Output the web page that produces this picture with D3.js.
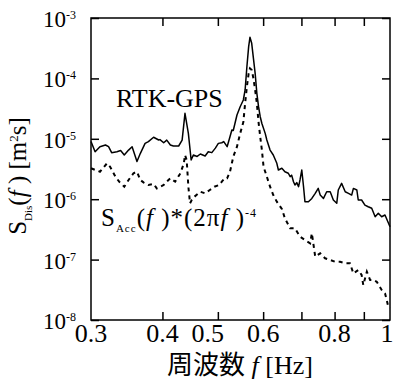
<!DOCTYPE html>
<html>
<head>
<meta charset="utf-8">
<script src="https://cdn.jsdelivr.net/npm/d3@7"></script>
<style>
  body { margin: 0; background: #fff; }
  svg { display: block; }
  svg text, svg tspan { font-family: "Liberation Serif"; }
  svg .cjk { font-family: "Noto Sans CJK JP"; }
</style>
</head>
<body>
<script>
// RTK-GPS displacement spectrum (solid)
const freqGPS = [0.300, 0.305, 0.311, 0.318, 0.322, 0.326, 0.333, 0.338, 0.343, 0.349,
  0.354, 0.361, 0.366, 0.373, 0.378, 0.386, 0.394, 0.396, 0.402, 0.407,
  0.413, 0.418, 0.427, 0.433, 0.438, 0.444, 0.449, 0.453, 0.460, 0.466,
  0.475, 0.481, 0.488, 0.495, 0.501, 0.508, 0.512, 0.519, 0.525, 0.529,
  0.532, 0.540, 0.547, 0.554, 0.558, 0.562, 0.566, 0.569, 0.573, 0.577,
  0.581, 0.585, 0.589, 0.593, 0.597, 0.605, 0.609, 0.617, 0.625, 0.634,
  0.638, 0.647, 0.655, 0.664, 0.669, 0.673, 0.678, 0.682, 0.687, 0.692,
  0.696, 0.701, 0.706, 0.710, 0.720, 0.730, 0.740, 0.749, 0.755, 0.765,
  0.775, 0.786, 0.796, 0.807, 0.812, 0.823, 0.835, 0.846, 0.857, 0.863,
  0.875, 0.880, 0.892, 0.904, 0.916, 0.929, 0.942, 0.954, 0.967, 0.980, 1.000];
const valGPS = [9.0e-6, 6.1e-6, 7.4e-6, 7.9e-6, 7.4e-6, 5.9e-6, 6.1e-6, 6.4e-6, 5.4e-6, 6.5e-6,
  7.4e-6, 4.2e-6, 5.75e-6, 8.4e-6, 9.0e-6, 1.06e-5, 9.55e-6, 9.7e-6, 8.6e-6, 9.5e-6,
  7.9e-6, 7.6e-6, 7.6e-6, 9.5e-6, 2.64e-5, 1.23e-5, 4.46e-6, 5.4e-6, 5.1e-6, 5.6e-6,
  5.2e-6, 6.1e-6, 5.9e-6, 7.0e-6, 8.4e-6, 8.6e-6, 9.0e-6, 7.4e-6, 1.08e-5, 1.40e-5,
  1.37e-5, 2.48e-5, 3.4e-5, 4.39e-5, 6.43e-5, 1.56e-4, 3.35e-4, 4.79e-4, 3.81e-4, 2.15e-4,
  1.21e-4, 5.67e-5, 3.4e-5, 2.32e-5, 1.79e-5, 1.23e-5, 9.55e-6, 6.5e-6, 5.4e-6, 3.93e-6,
  3.04e-6, 3.25e-6, 2.85e-6, 2.69e-6, 2.36e-6, 2.5e-6, 1.95e-6, 1.72e-6, 1.88e-6, 1.61e-6,
  2.08e-6, 3.04e-6, 1.61e-6, 9.1e-7, 9.1e-7, 1.03e-6, 1.25e-6, 1.51e-6, 1.17e-6, 1.03e-6,
  1.33e-6, 1.33e-6, 9.7e-7, 8.55e-7, 1.42e-6, 1.83e-6, 1.33e-6, 1.25e-6, 1.17e-6, 1.51e-6,
  1.42e-6, 9.7e-7, 9.7e-7, 8.0e-7, 7.5e-7, 7.07e-7, 5.13e-7, 5.85e-7, 5.13e-7, 5.47e-7, 3.5e-7];

// accelerometer spectrum converted to displacement (dashed)
const freqAcc = [0.300, 0.311, 0.320, 0.324, 0.331, 0.336, 0.343, 0.349, 0.356, 0.361,
  0.366, 0.371, 0.378, 0.386, 0.391, 0.402, 0.407, 0.413, 0.421, 0.430,
  0.436, 0.438, 0.441, 0.444, 0.447, 0.450, 0.455, 0.466, 0.475, 0.484,
  0.493, 0.503, 0.508, 0.514, 0.519, 0.525, 0.529, 0.532, 0.540, 0.547,
  0.554, 0.558, 0.562, 0.566, 0.569, 0.573, 0.577, 0.581, 0.585, 0.589,
  0.593, 0.597, 0.601, 0.609, 0.617, 0.625, 0.634, 0.647, 0.655, 0.669,
  0.682, 0.696, 0.710, 0.725, 0.730, 0.735, 0.740, 0.755, 0.770, 0.786,
  0.802, 0.818, 0.835, 0.851, 0.863, 0.880, 0.892, 0.898, 0.911, 0.923,
  0.935, 0.948, 0.967, 0.980, 0.987, 0.993, 1.000];
const valAcc = [3.25e-6, 2.85e-6, 3.93e-6, 3.45e-6, 2.36e-6, 1.95e-6, 1.61e-6, 2.08e-6, 2.69e-6, 2.85e-6,
  2.08e-6, 1.88e-6, 1.72e-6, 1.79e-6, 1.51e-6, 1.72e-6, 1.95e-6, 2.22e-6, 1.95e-6, 2.69e-6,
  3.93e-6, 5.4e-6, 4.46e-6, 1.61e-6, 8.55e-7, 9.7e-7, 1.10e-6, 1.33e-6, 1.25e-6, 1.42e-6,
  1.61e-6, 1.72e-6, 1.95e-6, 2.22e-6, 2.22e-6, 2.85e-6, 3.93e-6, 5.06e-6, 7.4e-6, 1.23e-5,
  1.89e-5, 3.87e-5, 7.3e-5, 1.21e-4, 1.47e-4, 1.38e-4, 1.0e-4, 6.43e-5, 3.87e-5, 1.89e-5,
  1.08e-5, 6.5e-6, 3.45e-6, 2.36e-6, 1.61e-6, 1.17e-6, 9.1e-7, 6.9e-7, 4.83e-7, 3.3e-7,
  3.3e-7, 2.4e-7, 2.11e-7, 1.86e-7, 2.72e-7, 1.75e-7, 1.12e-7, 1.27e-7, 1.05e-7, 9.85e-8,
  9.2e-8, 9.2e-8, 8.7e-8, 8.7e-8, 5.9e-8, 6.7e-8, 5.56e-8, 3.8e-8, 6.3e-8, 4.6e-8,
  4.6e-8, 4.3e-8, 3.14e-8, 2.77e-8, 2.14e-8, 1.66e-8, 1.58e-8];

const xTicks = [0.3, 0.4, 0.5, 0.6, 0.7, 0.8, 0.9, 1.0];
const xTickLabels = ["0.3", "0.4", "0.5", "0.6", "0.8", "1"];
const yExponents = [-3, -4, -5, -6, -7, -8];

const width = 393, height = 380;
const margin = { top: 18, right: 3, bottom: 60, left: 91 };

const x = d3.scaleLog()
  .domain([0.3, 1])
  .range([margin.left, width - margin.right]);

const y = d3.scaleLog()
  .domain([1e-8, 1e-3])
  .range([height - margin.bottom, margin.top]);

const svg = d3.select("body").append("svg")
  .attr("width", width)
  .attr("height", height);

// ticks pointing inward on all four sides
const tickLen = 8;
const inner = xTicks.slice(1, -1);
const decades = yExponents.map(e => Math.pow(10, e));
const axes = [
  [d3.axisBottom(x).tickValues(inner), `translate(0,${y.range()[0]})`],
  [d3.axisTop(x).tickValues(inner), `translate(0,${y.range()[1]})`],
  [d3.axisLeft(y).tickValues(decades), `translate(${x.range()[0]},0)`],
  [d3.axisRight(y).tickValues(decades), `translate(${x.range()[1]},0)`]
];
axes.forEach(([ax, tr]) => {
  const g = svg.append("g")
    .attr("transform", tr)
    .call(ax.tickSize(-tickLen).tickFormat(""));
  g.select(".domain").remove();
  g.selectAll("text").remove();
  g.selectAll("line").attr("stroke", "#000").attr("stroke-width", 1.5);
});

svg.append("rect")
  .attr("x", x.range()[0])
  .attr("y", y.range()[1])
  .attr("width", x.range()[1] - x.range()[0])
  .attr("height", y.range()[0] - y.range()[1])
  .attr("fill", "none")
  .attr("stroke", "#000")
  .attr("stroke-width", 1.5);

// lines
const line = d3.line()
  .x(d => x(d[0]))
  .y(d => y(d[1]));

svg.append("path")
  .datum(freqAcc.map((f, i) => [f, valAcc[i]]))
  .attr("d", line)
  .attr("fill", "none")
  .attr("stroke", "#000")
  .attr("stroke-width", 2)
  .attr("stroke-dasharray", "4,4");

svg.append("path")
  .datum(freqGPS.map((f, i) => [f, valGPS[i]]))
  .attr("d", line)
  .attr("fill", "none")
  .attr("stroke", "#000")
  .attr("stroke-width", 1.5)
  .attr("stroke-linejoin", "round");

// x tick labels (0.5 is pushed left a bit so it clears 0.6, as in the original)
const labelNudge = { "0.5": -10, "1": -3 };
svg.append("g")
  .selectAll("text")
  .data(xTickLabels)
  .join("text")
  .attr("font-size", 26)
  .attr("text-anchor", "middle")
  .attr("x", d => x(+d) + (labelNudge[d] || 0))
  .attr("y", 342)
  .text(d => d);

// y tick labels, 10 with superscript exponent
const yl = svg.append("g")
  .selectAll("text")
  .data(yExponents)
  .join("text")
  .attr("x", 43)
  .attr("y", e => y(Math.pow(10, e)) + 9)
  .attr("font-size", 23);
yl.append("tspan").text("10");
yl.append("tspan")
  .attr("font-size", 12)
  .attr("dy", -8)
  .text(e => "-" + Math.abs(e));

// annotations
svg.append("text")
  .attr("x", 116)
  .attr("y", 107)
  .attr("font-size", 26)
  .text("RTK-GPS");

const acc = svg.append("text")
  .attr("x", 101)
  .attr("y", 226)
  .attr("font-size", 25)
  .attr("letter-spacing", 1);
acc.append("tspan").text("S");
acc.append("tspan").attr("font-size", 11).attr("dy", 6).text("Acc");
acc.append("tspan").attr("dy", -6).text("(");
acc.append("tspan").attr("font-style", "italic").text("f");
acc.append("tspan").text(" )*(2π");
acc.append("tspan").attr("font-style", "italic").text("f");
acc.append("tspan").text(" )");
acc.append("tspan").attr("font-size", 12).attr("dy", -9).text("-4");

// x axis title
const xt = svg.append("text")
  .attr("x", 167)
  .attr("y", 374)
  .attr("font-size", 26);
xt.append("tspan").attr("class", "cjk").attr("font-size", 26).text("周波数");
xt.append("tspan").attr("font-style", "italic").text(" f ");
xt.append("tspan").text("[Hz]");

// y axis title
const ytitle = svg.append("text")
  .attr("transform", "translate(26,176) rotate(-90)")
  .attr("text-anchor", "middle")
  .attr("font-size", 25);
ytitle.append("tspan").text("S");
ytitle.append("tspan").attr("font-size", 11).attr("dy", 6).text("Dis");
ytitle.append("tspan").attr("dy", -6).text("(");
ytitle.append("tspan").attr("font-style", "italic").text("f");
ytitle.append("tspan").text(" )  [m");
ytitle.append("tspan").attr("font-size", 13).attr("dy", -8).text("2");
ytitle.append("tspan").attr("dy", 8).text("s]");
</script>
</body>
</html>
